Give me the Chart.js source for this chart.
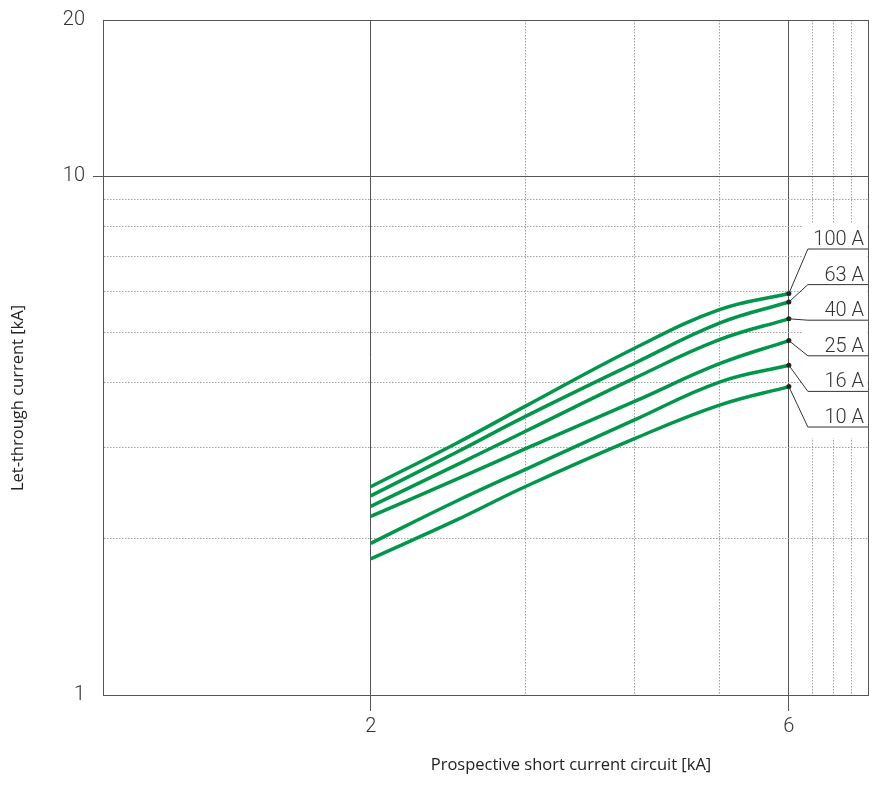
<!DOCTYPE html>
<html>
<head>
<meta charset="utf-8">
<script src="https://cdn.jsdelivr.net/npm/chart.js@4.4.1/dist/chart.umd.min.js"></script>
<style>
  html, body { margin: 0; padding: 0; background: #fff; }
  canvas { display: block; }
</style>
</head>
<body>
<canvas id="letThroughChart" width="872" height="807"></canvas>
<script>
// prospective short-circuit current [kA]
const X_VALUES = [2, 2.5, 3, 4, 5, 6];

// let-through current [kA] per rated current
const I_100A = [2.52, 3.05, 3.60, 4.66, 5.53, 5.94];
const I_63A  = [2.42, 2.93, 3.44, 4.36, 5.21, 5.72];
const I_40A  = [2.31, 2.77, 3.22, 4.08, 4.84, 5.31];
const I_25A  = [2.21, 2.60, 2.98, 3.68, 4.35, 4.82];
const I_16A  = [1.96, 2.36, 2.72, 3.39, 4.01, 4.32];
const I_10A  = [1.83, 2.17, 2.52, 3.12, 3.62, 3.93];

const SERIES_NAMES = ['100 A', '63 A', '40 A', '25 A', '16 A', '10 A'];
const SERIES_VALUES = [I_100A, I_63A, I_40A, I_25A, I_16A, I_10A];

const X_TICKS = [2, 3, 4, 5, 6, 7, 8, 9, 10];
const X_LABELS = [2, 6];
const Y_TICKS = [1, 2, 3, 4, 5, 6, 7, 8, 9, 10, 20];
const Y_LABELS = [1, 10, 20];

const X_SOLID = [2, 6, 10];
const Y_SOLID = [1, 10, 20];

const GREEN = '#00974a';
const DARK = '#555';
const DOTTED = '#a0a0a0';

// log axis that is squeezed above 6 kA, as in the original sheet
const X_BREAK = 6;
const X_SQUEEZE = 0.407;

class BrokenLogScale extends Chart.LogarithmicScale {
  toUnit(v) {
    const l = Math.log10(v), b = Math.log10(X_BREAK);
    return l <= b ? l : b + (l - b) * X_SQUEEZE;
  }
  fromUnit(u) {
    const b = Math.log10(X_BREAK);
    return u <= b ? Math.pow(10, u) : Math.pow(10, b + (u - b) / X_SQUEEZE);
  }
  getPixelForValue(value) {
    if (value === undefined || value === 0) value = this.min;
    if (value === null || isNaN(value)) return NaN;
    const u0 = this.toUnit(this.min), u1 = this.toUnit(this.max);
    return this.getPixelForDecimal((this.toUnit(value) - u0) / (u1 - u0));
  }
  getValueForPixel(pixel) {
    const u0 = this.toUnit(this.min), u1 = this.toUnit(this.max);
    return this.fromUnit(u0 + this.getDecimalForPixel(pixel) * (u1 - u0));
  }
}
BrokenLogScale.id = 'brokenLog';
BrokenLogScale.defaults = Chart.LogarithmicScale.defaults;
Chart.register(BrokenLogScale);

const tickFont = { family: 'Roboto, "Liberation Sans", sans-serif', size: 20, weight: '300' };
const titleFont = '16.5px "Open Sans", "Noto Sans", sans-serif';

const datasets = SERIES_NAMES.map((name, i) => ({
  label: name,
  data: X_VALUES.map((x, j) => ({ x: x, y: SERIES_VALUES[i][j] })),
  borderColor: GREEN,
  borderWidth: 3.5,
  tension: 0.4,
  pointRadius: ctx => ctx.dataIndex === X_VALUES.length - 1 ? 2.5 : 0,
  pointBackgroundColor: '#222',
  pointBorderWidth: 0,
  fill: false
}));

const sheetPlugin = {
  id: 'sheet',
  beforeDatasetsDraw(chart) {
    // white panel behind the curve labels
    const { ctx, chartArea } = chart;
    ctx.save();
    ctx.fillStyle = '#fff';
    ctx.fillRect(chartArea.left + 700, chartArea.top + 203, chartArea.right - chartArea.left - 701, 215);
    ctx.restore();
  },
  afterDatasetsDraw(chart) {
    const { ctx, chartArea, scales } = chart;
    const x6 = scales.x.getPixelForValue(X_VALUES[X_VALUES.length - 1]);
    ctx.save();
    ctx.strokeStyle = '#333';
    ctx.lineWidth = 1;
    ctx.fillStyle = '#333';
    ctx.font = '300 20px Roboto, "Liberation Sans", sans-serif';
    ctx.textAlign = 'right';
    ctx.textBaseline = 'alphabetic';
    SERIES_NAMES.forEach((name, i) => {
      const vals = SERIES_VALUES[i];
      const py = scales.y.getPixelForValue(vals[vals.length - 1]);
      const ly = chartArea.top + 229 + i * 35.6;
      ctx.beginPath();
      ctx.moveTo(x6, py);
      ctx.lineTo(x6 + 19, ly);
      ctx.lineTo(chartArea.right, ly);
      ctx.stroke();
      ctx.fillText(name, chartArea.right - 4, ly - 4);
    });
    ctx.restore();
  },
  afterDraw(chart) {
    const { ctx, chartArea } = chart;
    ctx.save();
    ctx.fillStyle = '#222';
    ctx.font = titleFont;
    ctx.textAlign = 'center';
    ctx.textBaseline = 'middle';
    ctx.fillText('Prospective short current circuit [kA]', chartArea.left + 468, chartArea.bottom + 70);
    ctx.translate(18, chartArea.top + 378);
    ctx.rotate(-Math.PI / 2);
    ctx.fillText('Let-through current [kA]', 0, 0);
    ctx.restore();
  }
};

new Chart(document.getElementById('letThroughChart'), {
  type: 'line',
  data: { datasets: datasets },
  plugins: [sheetPlugin],
  options: {
    responsive: false,
    animation: false,
    devicePixelRatio: 1,
    layout: { padding: { top: 20, right: 4, left: 0, bottom: 0 } },
    plugins: {
      legend: { display: false },
      tooltip: { enabled: false }
    },
    scales: {
      x: {
        type: 'brokenLog',
        min: 0.99,
        max: 10,
        afterBuildTicks: s => { s.ticks = X_TICKS.map(v => ({ value: v })); },
        afterFit: s => { s.height = 112; },
        ticks: {
          autoSkip: false,
          maxRotation: 0,
          padding: 4,
          color: '#333',
          font: tickFont,
          callback: v => X_LABELS.includes(v) ? String(v) : ''
        },
        grid: {
          color: ctx => ctx.tick && X_SOLID.includes(ctx.tick.value) ? DARK : DOTTED,
          lineWidth: 1,
          tickLength: 16,
          tickColor: ctx => ctx.tick && X_LABELS.includes(ctx.tick.value) ? DARK : 'rgba(0,0,0,0)'
        },
        border: {
          color: DARK,
          width: 1,
          dash: ctx => ctx.tick && !X_SOLID.includes(ctx.tick.value) ? [1.5, 1.5] : []
        }
      },
      y: {
        type: 'logarithmic',
        min: 1,
        max: 20,
        afterBuildTicks: s => { s.ticks = Y_TICKS.map(v => ({ value: v })); },
        afterFit: s => { s.width = 103; },
        ticks: {
          autoSkip: false,
          padding: 8,
          color: '#333',
          font: tickFont,
          callback: v => Y_LABELS.includes(v) ? String(v) : ''
        },
        grid: {
          color: ctx => ctx.tick && Y_SOLID.includes(ctx.tick.value) ? DARK : DOTTED,
          lineWidth: 1,
          tickLength: 10,
          tickColor: ctx => ctx.tick && ctx.tick.value === 10 ? DARK : 'rgba(0,0,0,0)'
        },
        border: {
          color: DARK,
          width: 1,
          dash: ctx => ctx.tick && !Y_SOLID.includes(ctx.tick.value) ? [1.5, 1.5] : []
        }
      }
    }
  }
});
</script>
</body>
</html>
